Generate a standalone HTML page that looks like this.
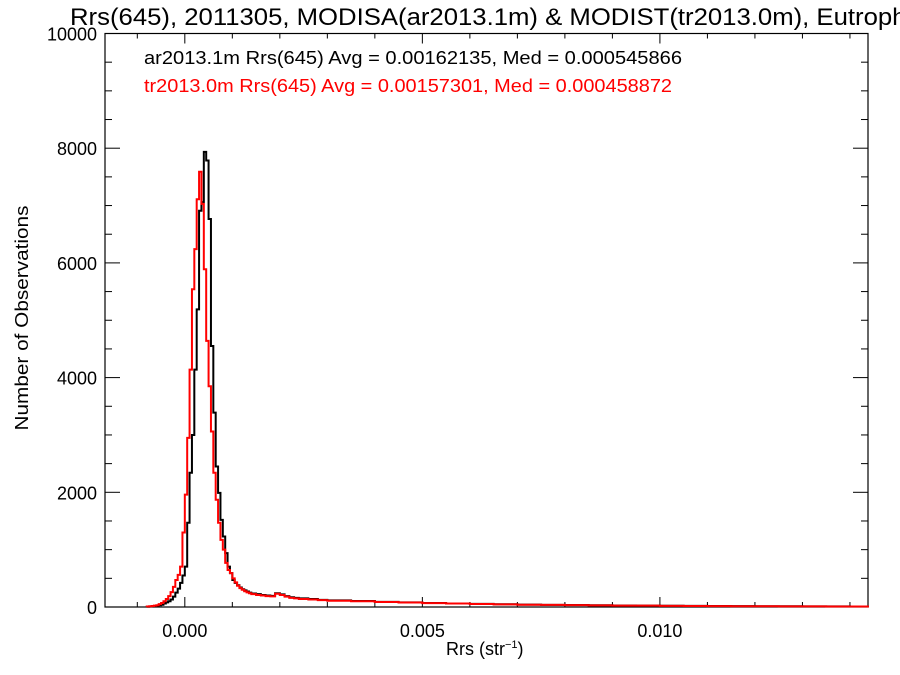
<!DOCTYPE html>
<html><head><meta charset="utf-8"><style>
html,body{margin:0;padding:0;background:#fff;overflow:hidden;}
svg{display:block;font-family:"Liberation Sans",Arial,sans-serif;}
</style></head><body>
<svg id="chart" width="900" height="675" viewBox="0 0 900 675">
<text x="70" y="25" font-size="24" textLength="855" lengthAdjust="spacingAndGlyphs" fill="#000">Rrs(645), 2011305, MODISA(ar2013.1m) &amp; MODIST(tr2013.0m), Eutrophic</text>
<g id="axes"></g>
<g id="series"></g>
<text x="144" y="64" font-size="18" textLength="538" lengthAdjust="spacingAndGlyphs" fill="#000">ar2013.1m Rrs(645) Avg = 0.00162135, Med = 0.000545866</text>
<text x="144" y="92" font-size="18" textLength="528" lengthAdjust="spacingAndGlyphs" fill="#ff0000">tr2013.0m Rrs(645) Avg = 0.00157301, Med = 0.000458872</text>
<text x="446" y="655" font-size="18">Rrs (str<tspan font-size="11" dy="-7">−1</tspan><tspan dy="7">)</tspan></text>
<text transform="translate(28,318) rotate(-90)" font-size="18" textLength="225" lengthAdjust="spacingAndGlyphs" text-anchor="middle">Number of Observations</text>
</svg>
<script>
const binEdges = [-0.0008,-0.00075,-0.0007,-0.00065,-0.0006,-0.00055,-0.0005,-0.00045,-0.0004,-0.00035,-0.0003,-0.00025,-0.0002,-0.00015,-0.0001,-0.00005,
0,0.00005,0.0001,0.00015,0.0002,0.00025,0.0003,0.00035,0.0004,0.00045,0.0005,0.00055,0.0006,0.00065,0.0007,0.00075,0.0008,0.00085,0.0009,0.00095,
0.001,0.00105,0.0011,0.00115,0.0012,0.00125,0.0013,0.00135,0.0014,0.0015,0.0016,0.0017,0.0018,0.0019,0.002,0.0021,0.0022,0.0023,0.0024,0.0026,0.0028,0.003,
0.0035,0.004,0.0045,0.005,0.0055,0.006,0.0065,0.007,0.0075,0.008,0.0085,0.009,0.0095,0.01,0.0105,0.011,0.0115,0.012,0.0125,0.013,0.0135,0.014,0.0144];
const aquaCounts = [5,8,10,15,20,30,40,60,80,100,130,180,250,320,420,550,
705,1470,2340,3000,4140,5190,6910,7060,7937,7785,6765,4550,3390,2450,1990,1520,1230,940,705,590,
470,420,380,340,310,290,270,250,235,225,210,200,195,240,220,190,170,160,150,140,125,115,
105,90,80,70,62,55,48,42,38,34,30,27,25,22,20,18,16,14,12,11,10,9];
const terraCounts = [8,12,18,25,30,50,70,100,140,190,260,350,470,560,705,1300,
1960,2950,4140,5540,6240,7110,7590,7030,5890,4640,3850,3060,2340,1870,1470,1170,1000,770,645,590,
500,430,370,330,300,275,255,240,225,210,200,190,185,230,210,180,160,150,140,130,120,110,
100,88,78,68,60,52,46,40,36,32,28,25,23,20,18,16,14,12,11,10,9,8];
const xMajor = [0,0.005,0.010];
const xMajorLabels = ["0.000","0.005","0.010"];
const yMajor = [0,2000,4000,6000,8000,10000];

const L=105,R=868,T=33.5,B=607;
const xMin=-0.00168,xMax=0.01438,yMax=10000;
const X=v=>L+(v-xMin)/(xMax-xMin)*(R-L);
const Y=v=>B-v/yMax*(B-T);
const NS="http://www.w3.org/2000/svg";
function mk(tag,attrs,parent){const e=document.createElementNS(NS,tag);for(const k in attrs)e.setAttribute(k,attrs[k]);parent.appendChild(e);return e;}
const axes=document.getElementById('axes'),series=document.getElementById('series');
const frame=mk('rect',{x:L,y:T,width:R-L,height:B-T,fill:'none',stroke:'#000','stroke-width':1.2},axes);


for(let i=-1;i<=14;i++){const v=i*0.001;const x=X(v);const major=(i%5===0);const len=major?10:5;
 const t1=mk('line',{x1:x,y1:B,x2:x,y2:B-len,stroke:'#000','stroke-width':1},axes);
 
 
 const t2=mk('line',{x1:x,y1:T,x2:x,y2:T+len,stroke:'#000','stroke-width':1},axes);
 
 }
xMajor.forEach((v,i)=>{const t=mk('text',{x:X(v),y:B+30,'font-size':18,'text-anchor':'middle'},axes);t.textContent=xMajorLabels[i];
 
 });
for(let v=0;v<=10000;v+=500){const y=Y(v);const len=(v%2000===0)?15:7;
 const a=mk('line',{x1:L,y1:y,x2:L+len,y2:y,stroke:'#000','stroke-width':1},axes);
 
 
 const b=mk('line',{x1:R,y1:y,x2:R-len,y2:y,stroke:'#000','stroke-width':1},axes);
 
 }
yMajor.forEach(v=>{const t=mk('text',{x:L-8,y:Y(v)+7,'font-size':18,'text-anchor':'end'},axes);t.textContent=String(v);
 
 });
function stepPath(counts){let d='M'+X(binEdges[0])+','+Y(0);
 for(let i=0;i<counts.length;i++){const x0=X(binEdges[i]),x1=X(binEdges[i+1]),y=Y(counts[i]);d+=' L'+x0+','+y+' L'+x1+','+y;}
 return d;}
const pa=mk('path',{d:stepPath(aquaCounts),fill:'none',stroke:'#000','stroke-width':2},series);


const pt=mk('path',{d:stepPath(terraCounts),fill:'none',stroke:'#ff0000','stroke-width':2},series);


</script>
</body></html>
